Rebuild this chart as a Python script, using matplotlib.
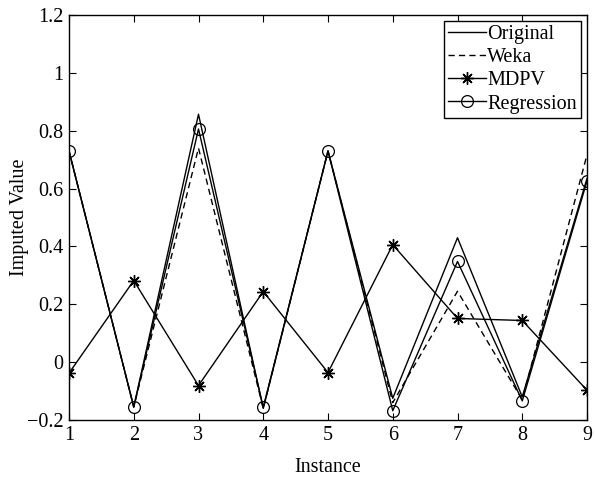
import numpy as np
import matplotlib
matplotlib.use('Agg')
import matplotlib.pyplot as plt

plt.rcParams['font.family'] = ['Liberation Serif', 'DejaVu Serif']

instance = np.arange(1, 10)
original = [0.73, -0.155, 0.857, -0.16, 0.73, -0.125, 0.43, -0.12, 0.635]
weka = [0.73, -0.155, 0.74, -0.16, 0.73, -0.14, 0.245, -0.13, 0.717]
mdpv = [-0.038, 0.282, -0.081, 0.244, -0.036, 0.406, 0.151, 0.144, -0.097]
regression = [0.73, -0.155, 0.806, -0.156, 0.73, -0.168, 0.348, -0.134, 0.626]

fig = plt.figure(figsize=(5.95, 4.83), dpi=100)
ax = fig.add_axes([69/595, 63/483, (587-69)/595, (420-15)/483])

ax.plot(instance, original, '-', color='k', lw=1, label='Original')
ax.plot(instance, weka, color='k', lw=1, dashes=(4.5, 3), label='Weka')
ax.plot(instance, mdpv, '-', color='k', lw=1, marker=(8, 2, 0), ms=9,
        markeredgewidth=1.0, label='MDPV')
ax.plot(instance, regression, '-', color='k', lw=1, marker='o', ms=8.5,
        mfc='none', markeredgewidth=0.9, label='Regression')

ax.set_xlim(1, 9)
ax.set_ylim(-0.2, 1.2)
ax.set_xticks(range(1, 10))
ax.set_yticks([-0.2, 0, 0.2, 0.4, 0.6, 0.8, 1, 1.2])
ax.set_yticklabels(['\u22120.2', '0', '0.2', '0.4', '0.6', '0.8', '1', '1.2'])
ax.tick_params(direction='in', top=True, right=True, labelsize=14.5, length=5, pad=4)
for s in ax.spines.values():
    s.set_linewidth(1.0)

ax.set_xlabel('Instance', fontsize=14.5)
ax.set_ylabel('Imputed Value', fontsize=14.5)
ax.xaxis.set_label_coords(0.5, -0.095)
ax.yaxis.set_label_coords(-0.078, 0.5)

leg = ax.legend(loc='upper right', fontsize=14.5, handlelength=1.9, handletextpad=0.05,
                borderpad=0.2, labelspacing=0.2, fancybox=False, framealpha=1,
                borderaxespad=0.3)
leg.get_frame().set_edgecolor('k')
leg.get_frame().set_linewidth(1.0)

fig.savefig('out.png', dpi=100)
